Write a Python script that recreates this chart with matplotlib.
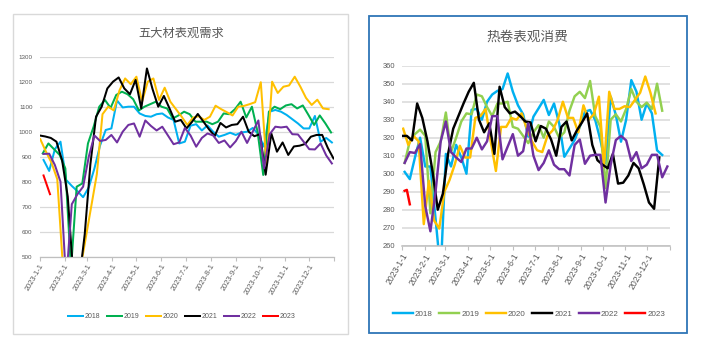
import matplotlib
matplotlib.use("Agg")
import matplotlib.pyplot as plt
from matplotlib.patches import Rectangle
import pandas as pd

plt.rcParams['font.family'] = ['Noto Sans CJK SC', 'DejaVu Sans']

# ---------------- data: 五大材表观需求 (left) ----------------
L18 = [887, 843, 930, 960, 807, 783, 762, 738, 777, 853, 945, 1007, 1013, 1125, 1097, 1100, 1100, 1073, 1063, 1060,
       1070, 1073, 1057, 1047, 953, 960, 1024, 1030, 1005, 1025, 1000, 980, 987, 996, 987, 997, 1000, 1015, 990, 940,
       1080, 1087, 1080, 1067, 1050, 1033, 1013, 1013, 1063, 960, 975, 957]
L19 = [913, 953, 930, 907, 853, 450, 780, 793, 953, 1020, 1100, 1127, 1095, 1147, 1160, 1150, 1130, 1085, 1100, 1110,
       1120, 1100, 1093, 1053, 1065, 1080, 1070, 1040, 1040, 1040, 1030, 1040, 1073, 1070, 1090, 1120, 1057, 1100, 1000, 827,
       1080, 1100, 1090, 1105, 1110, 1093, 1105, 1067, 1027, 1065, 1033, 997]
L20 = [970, 920, 875, 810, 460, 380, 400, 440, 570, 700, 830, 1070, 1100, 1085, 1165, 1213, 1190, 1220, 1120, 1200,
       1213, 1127, 1176, 1120, 1090, 1060, 1027, 1056, 1062, 1047, 1060, 1104, 1090, 1078, 1065, 1100, 1103, 1110, 1118, 1198,
       870, 1200, 1155, 1180, 1185, 1220, 1180, 1135, 1107, 1128, 1093, 1090]
L21 = [985, 981, 975, 960, 885, 740, 420, 400, 590, 870, 1060, 1100, 1173, 1200, 1217, 1173, 1150, 1207, 1093, 1253,
       1170, 1100, 1143, 1093, 1040, 1047, 1013, 1040, 1071, 1040, 1009, 983, 1035, 1017, 1027, 1030, 1060, 1000, 982, 990,
       828, 993, 920, 957, 907, 941, 944, 951, 980, 987, 987, 935, 893]
L22 = [911, 912, 867, 800, 400, 710, 750, 780, 900, 985, 963, 967, 987, 957, 1000, 1027, 1033, 980, 1045, 1023,
       1005, 1020, 985, 950, 957, 1015, 985, 940, 975, 993, 985, 955, 965, 937, 962, 1000, 955, 1000, 1045, 853,
       990, 1020, 1017, 1020, 990, 989, 960, 930, 929, 953, 905, 873]
L23 = [825, 750]
L_start = {'2018': '2023-01-06', '2019': '2023-01-05', '2020': '2023-01-02',
           '2021': '2023-01-01', '2022': '2023-01-06'}
L23_dates = ['2023-01-06', '2023-01-14']

# ---------------- data: 热卷表观消费 (right) ----------------
R18 = [301, 297, 309, 320, 304, 304, 275, 245, 311, 304, 316, 309, 300, 335.5, 336, 330, 340, 344, 346, 347,
       355.7, 345.6, 338, 333, 320.6, 331.7, 336.3, 341, 332.6, 339, 328, 309.4, 314, 318.7, 326, 334.4, 335.4, 329.8,
       318.7, 305.7, 342.8, 332.6, 317.8, 330, 352, 345.6, 330, 339, 333.5, 313, 310.4]
R19 = [306, 318, 322, 324.5, 321, 278, 312, 318, 334, 312, 320, 329, 333.5, 333, 344, 343, 337, 332, 339, 339,
       340, 326, 325, 321, 317, 323, 327, 320, 329, 326, 320, 323, 335, 343, 345.5, 342, 351.5, 332, 326, 292,
       330, 333, 329, 336, 347, 340, 337, 339.5, 336, 350, 335]
R20 = [325, 316, 321, 318, 272, 296, 274, 269.5, 290, 296.5, 305, 315.5, 309, 309, 331, 332, 336, 318, 301.5, 326,
       326, 331, 330, 333.5, 325, 318, 313, 312, 321, 324, 330, 340, 331, 331, 323, 338, 330, 333, 342.8, 304,
       345.5, 336, 336, 337.5, 337, 341, 345, 354, 345, 333.5]
R21 = [321, 321, 318.5, 339, 331, 318, 301, 280, 289, 311, 325, 332, 339, 345.5, 350.5, 330, 323, 328, 311, 348.3,
       337, 333.5, 334.5, 332, 329, 328.5, 318, 326.5, 325, 319, 310, 326, 329, 318.5, 324, 328.5, 333.5, 316, 307.5, 305,
       303, 311, 294.5, 295, 299, 306, 303, 294, 284, 280.5, 309]
R22 = [306, 312, 311.5, 316.5, 282, 268, 290, 318, 329, 312, 309, 306.5, 314, 314, 320, 313.5, 318, 332, 332, 308,
       315, 322, 310, 312.5, 328, 310, 302, 306, 313, 305, 302.5, 302.5, 299, 316, 319, 305.5, 310, 310.5, 310.5, 284,
       305, 318.7, 321, 318.5, 307, 312, 303, 305, 310.5, 310.5, 298, 304]
R23 = [290.5, 291, 283]
R_start = {'2018': '2023-01-05', '2019': '2023-01-05', '2020': '2023-01-03',
           '2021': '2023-01-01', '2022': '2023-01-05'}
R23_dates = ['2023-01-05', '2023-01-08', '2023-01-12']

years = ['2018', '2019', '2020', '2021', '2022', '2023']
colors = {'2018': '#00B0F0', '2019': '#00B050', '2020': '#FFC000',
          '2021': '#000000', '2022': '#7030A0', '2023': '#FF0000'}
colors_r = dict(colors, **{'2019': '#92D050'})

month_ticks = pd.date_range('2023-01-01', periods=12, freq='MS')
tick_labels = [f"2023-{d.month}-1" for d in month_ticks]

W, H = 703, 349
fig = plt.figure(figsize=(W / 100, H / 100), dpi=100)
fig.patch.set_facecolor('white')

def fr(x0, y0, x1, y1):
    return [x0 / W, 1 - y1 / H, (x1 - x0) / W, (y1 - y0) / H]

# frames
fig.patches.append(Rectangle((13 / W, 1 - 334 / H), 335 / W, 320 / H, transform=fig.transFigure,
                             fill=False, edgecolor='#D9D9D9', lw=1.0))
fig.patches.append(Rectangle((369 / W, 1 - 333 / H), 318 / W, 317 / H, transform=fig.transFigure,
                             fill=False, edgecolor='#2E75B6', lw=1.3))

def style(ax, ylim, ystep, yfs, xfs, fam, glw):
    ax.set_ylim(*ylim)
    ax.set_yticks(range(ylim[0], ylim[1] + 1, ystep))
    ax.set_xlim(pd.Timestamp('2023-01-01'), pd.Timestamp('2024-01-01'))
    ax.set_xticks(list(month_ticks) + [pd.Timestamp('2024-01-01')])
    ax.set_xticklabels(tick_labels + [''], rotation=60, ha='right', rotation_mode='anchor',
                       fontsize=xfs, color='#595959', family=fam)
    for lab in ax.get_yticklabels():
        lab.set_fontsize(yfs)
        lab.set_color('#595959')
        lab.set_family(fam)
    ax.grid(axis='y', color='#D9D9D9', lw=glw)
    ax.set_axisbelow(True)
    for s in ['left', 'right', 'top']:
        ax.spines[s].set_visible(False)
    ax.spines['bottom'].set_color('#BFBFBF')
    ax.spines['bottom'].set_linewidth(glw)
    ax.tick_params(axis='y', length=0, pad=5)
    ax.tick_params(axis='x', length=3, color='#BFBFBF', pad=1.5)

fam = ['Liberation Sans Narrow', 'Liberation Sans', 'DejaVu Sans']

# ---------------- left ----------------
axL = fig.add_axes(fr(39.5, 56.7, 334.3, 256.7))
Ldata = {'2018': L18, '2019': L19, '2020': L20, '2021': L21, '2022': L22}
for y in years[:-1]:
    d = pd.date_range(L_start[y], periods=len(Ldata[y]), freq='7D')
    axL.plot(d, Ldata[y], color=colors[y], lw=1.45, label=y)
axL.plot(pd.to_datetime(L23_dates), L23, color=colors['2023'], lw=1.45, label='2023')
style(axL, (500, 1300), 100, 4.5, 5.4, fam, 0.9)
fig.text(181 / W, 1 - 33 / H, '五大材表观需求', ha='center', va='center', fontsize=8.8, color='#595959')
fig.legend(*axL.get_legend_handles_labels(), loc='center', bbox_to_anchor=(182 / W, 1 - 317 / H),
           ncol=6, frameon=False, handlelength=2.2, columnspacing=0.9, handletextpad=0.25,
           prop={'family': fam, 'size': 5.0}, labelcolor='#595959')

# ---------------- right ----------------
axR = fig.add_axes(fr(401.7, 65.7, 670.3, 245.7))
Rdata = {'2018': R18, '2019': R19, '2020': R20, '2021': R21, '2022': R22}
for y in years[:-1]:
    d = pd.date_range(R_start[y], periods=len(Rdata[y]), freq='7D')
    axR.plot(d, Rdata[y], color=colors_r[y], lw=1.75, label=y)
axR.plot(pd.to_datetime(R23_dates), R23, color=colors_r['2023'], lw=1.75, label='2023')
style(axR, (260, 360), 10, 5.4, 6.2, fam, 1.1)
fig.text(527 / W, 1 - 37 / H, '热卷表观消费', ha='center', va='center', fontsize=9.8, color='#595959')
fig.legend(*axR.get_legend_handles_labels(), loc='center', bbox_to_anchor=(529 / W, 1 - 314 / H),
           ncol=6, frameon=False, handlelength=2.5, columnspacing=0.8, handletextpad=0.25,
           prop={'family': fam, 'size': 5.8}, labelcolor='#595959')

fig.savefig('out.png', dpi=100, facecolor='white')
